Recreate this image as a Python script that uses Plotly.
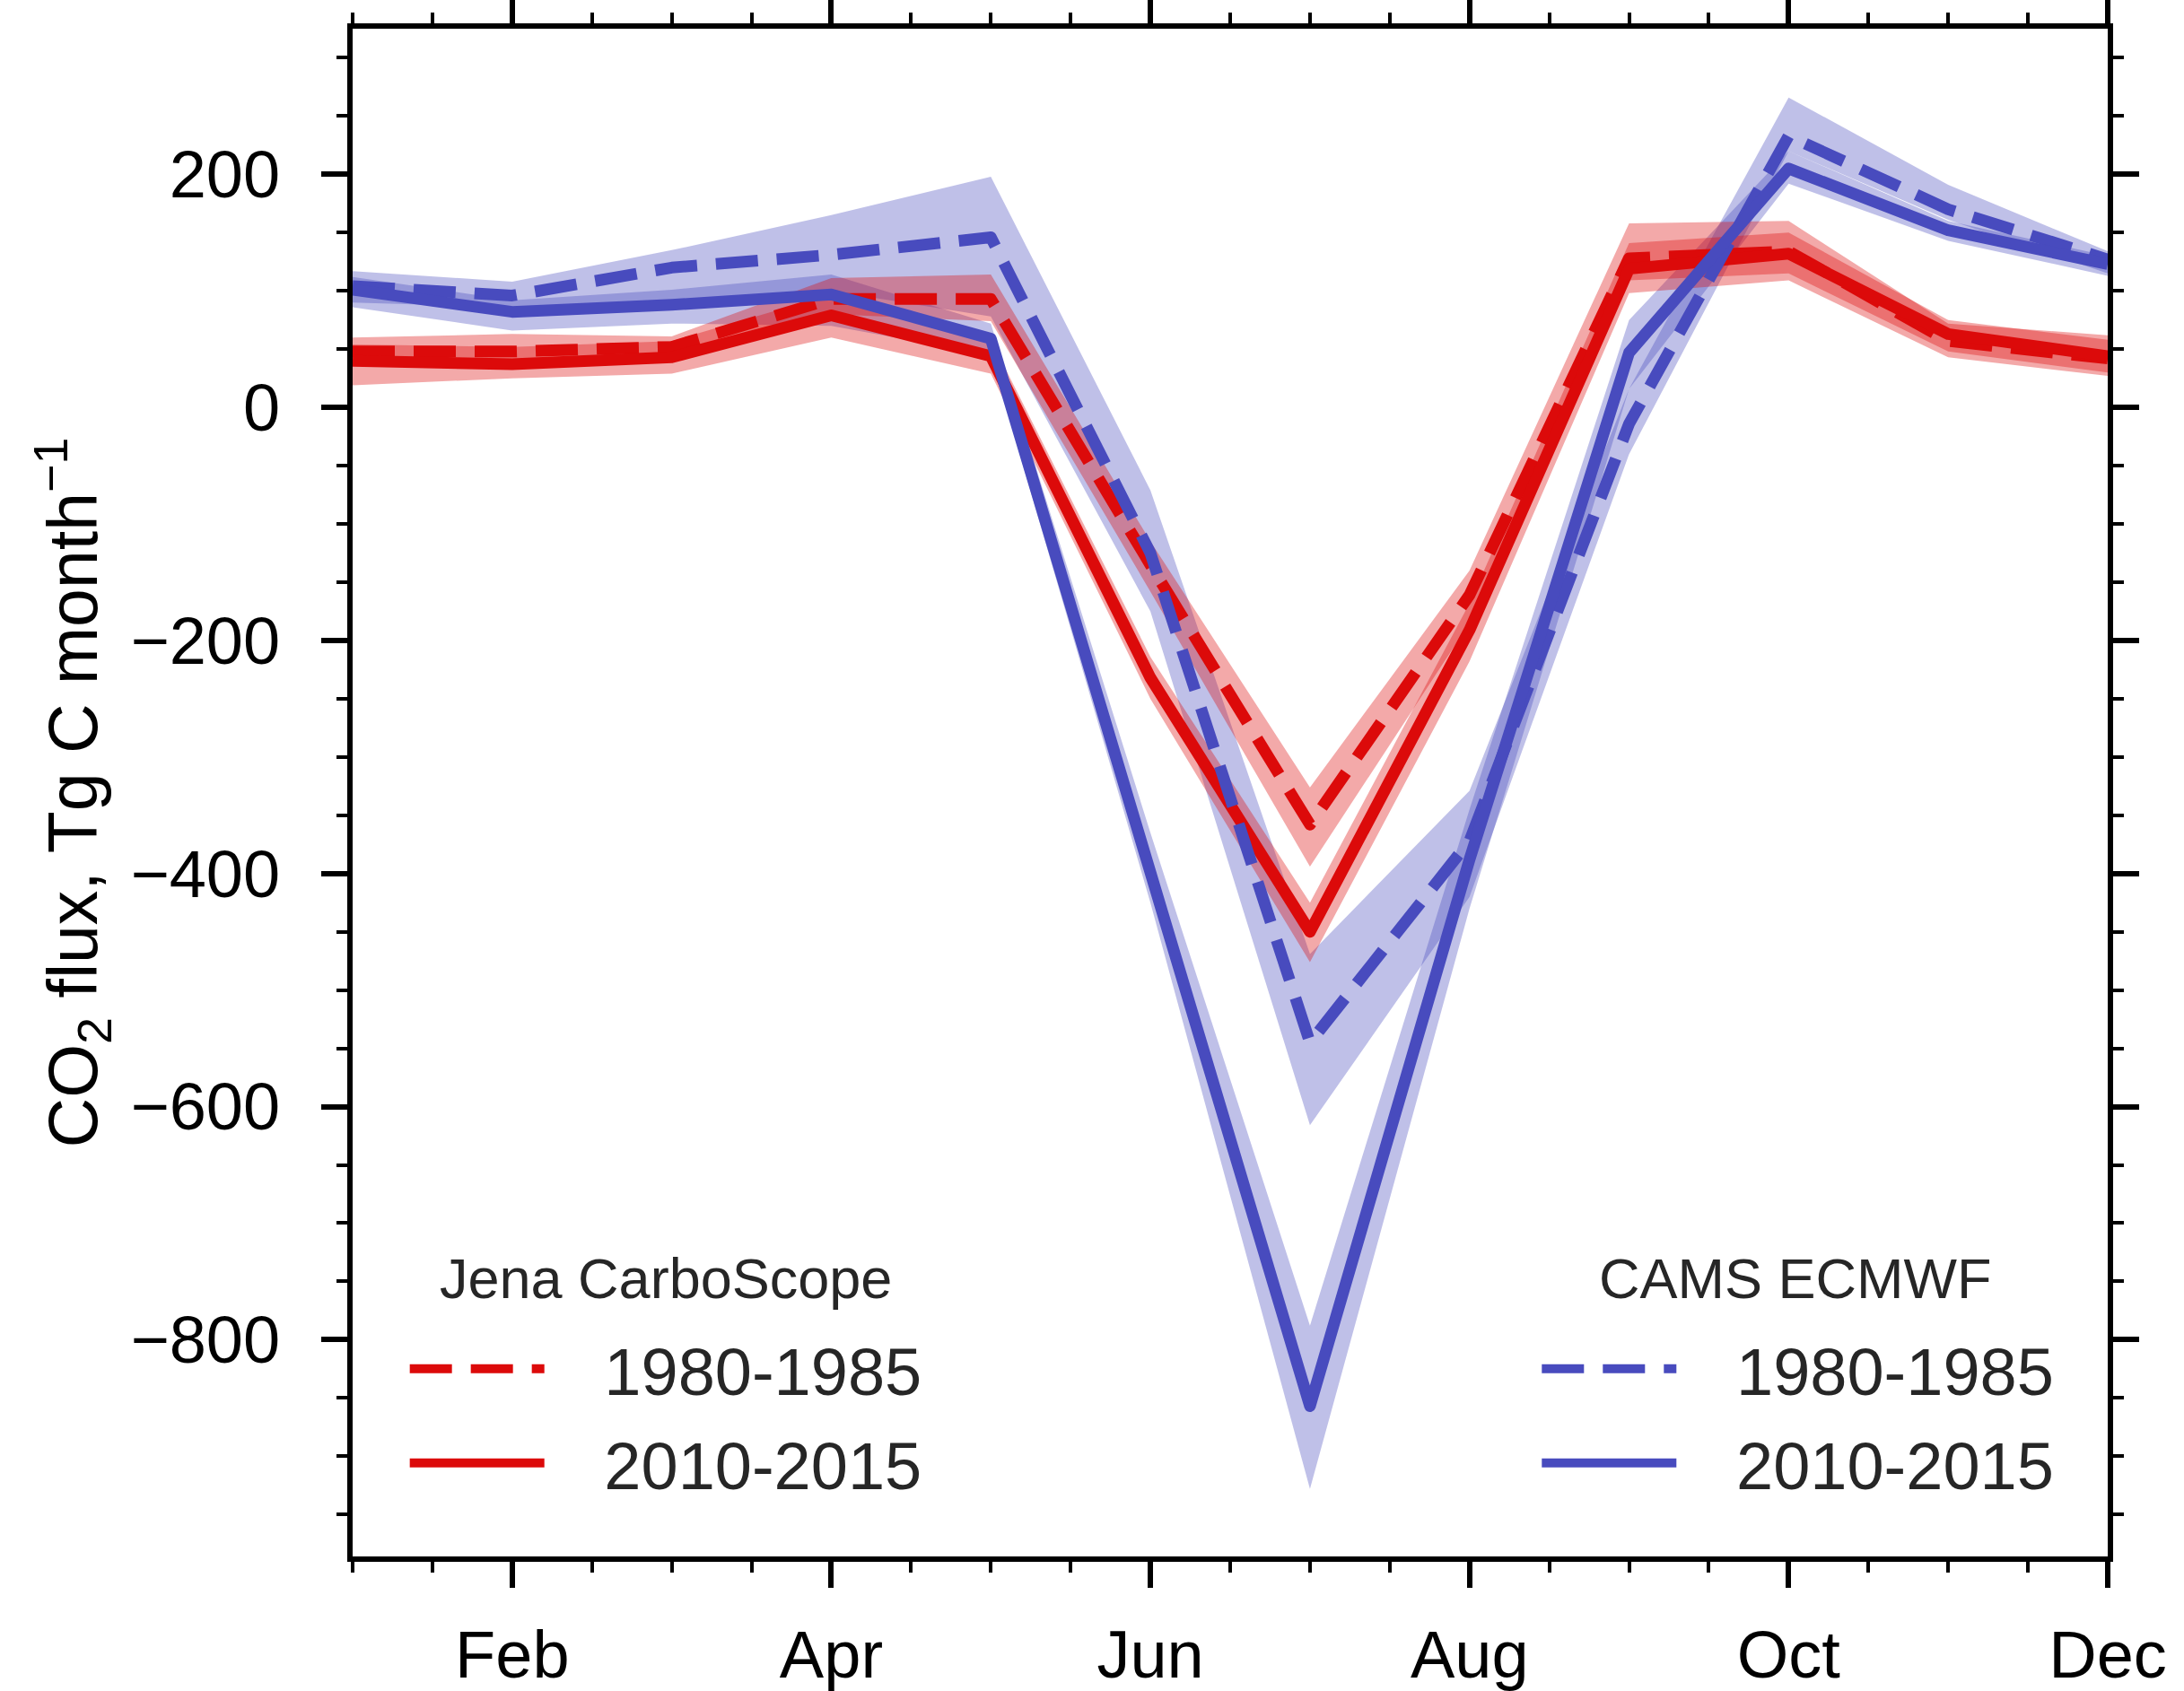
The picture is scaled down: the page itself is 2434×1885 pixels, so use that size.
import plotly.graph_objects as go

# ---------------- data ----------------
months = list(range(1, 13))
tick_vals = [2, 4, 6, 8, 10, 12]
tick_text = ["Feb", "Apr", "Jun", "Aug", "Oct", "Dec"]
y_tick_vals = [-800, -600, -400, -200, 0, 200]

jena_1980 = [48, 48, 52, 93, 93, -135, -358, -161, 128, 134, 57, 42]
jena_1980_lo = [37, 38, 42, 80, 74, -158, -394, -185, 109, 115, 48, 30]
jena_1980_hi = [60, 63, 61, 111, 114, -115, -326, -140, 158, 160, 72, 62]

jena_2010 = [40, 37, 43, 79, 44, -232, -450, -191, 119, 132, 63, 44]
jena_2010_lo = [19, 25, 29, 60, 29, -250, -476, -218, 98, 109, 43, 27]
jena_2010_hi = [54, 52, 57, 97, 58, -214, -425, -168, 141, 150, 75, 58]

cams_1980 = [104, 96, 120, 131, 146, -125, -545, -372, -14, 233, 170, 127]
cams_1980_lo = [90, 86, 91, 100, 78, -175, -616, -420, -40, 220, 161, 115]
cams_1980_hi = [117, 108, 135, 165, 198, -71, -469, -329, 16, 266, 191, 134]

cams_2010 = [101, 82, 88, 97, 59, -395, -857, -388, 47, 205, 152, 123]
cams_2010_lo = [86, 66, 72, 70, 45, -425, -928, -430, 16, 192, 143, 113]
cams_2010_hi = [112, 92, 101, 114, 72, -365, -788, -345, 75, 220, 160, 130]

legend_titles = ["Jena CarboScope", "CAMS ECMWF"]
period_labels = ["1980-1985", "2010-2015"]

# ---------------- styles ----------------
RED = "#DC0A0A"
BLUE = "#484BBE"
RED_FILL = "rgba(220,10,10,0.35)"
BLUE_FILL = "rgba(72,75,190,0.35)"
DASH = "47px,21px"
LW = 13
FONT = "Liberation Sans, Arial, Helvetica, sans-serif"
GAP = "\u00a0\u00a0\u00a0"

fig = go.Figure()


def add_band(lo, hi, fillcolor):
    fig.add_trace(go.Scatter(x=months, y=lo, mode="lines", line=dict(width=0, color=fillcolor),
                             showlegend=False, hoverinfo="skip"))
    fig.add_trace(go.Scatter(x=months, y=hi, mode="lines", line=dict(width=0, color=fillcolor),
                             fill="tonexty", fillcolor=fillcolor, showlegend=False, hoverinfo="skip"))


add_band(cams_1980_lo, cams_1980_hi, BLUE_FILL)
add_band(cams_2010_lo, cams_2010_hi, BLUE_FILL)
add_band(jena_1980_lo, jena_1980_hi, RED_FILL)
add_band(jena_2010_lo, jena_2010_hi, RED_FILL)

fig.add_trace(go.Scatter(x=months, y=jena_1980, mode="lines", name=GAP + period_labels[0],
                         line=dict(color=RED, width=LW, dash=DASH),
                         legend="legend", legendgroup="j1"))
fig.add_trace(go.Scatter(x=months, y=jena_2010, mode="lines", name=GAP + period_labels[1],
                         line=dict(color=RED, width=LW),
                         legend="legend", legendgroup="j2"))
fig.add_trace(go.Scatter(x=months, y=cams_1980, mode="lines", name=GAP + period_labels[0],
                         line=dict(color=BLUE, width=LW, dash=DASH),
                         legend="legend2", legendgroup="c1"))
fig.add_trace(go.Scatter(x=months, y=cams_2010, mode="lines", name=GAP + period_labels[1],
                         line=dict(color=BLUE, width=LW),
                         legend="legend2", legendgroup="c2"))

axis_common = dict(
    showline=True, linecolor="black", linewidth=6, mirror="ticks",
    ticks="outside", tickcolor="black", ticklen=29, tickwidth=6,
    showgrid=False, zeroline=False, automargin=False,
    tickfont=dict(size=74, color="black", family=FONT),
)

fig.update_xaxes(
    range=[1, 12], tickmode="array", tickvals=tick_vals, ticktext=tick_text,
    minor=dict(tickmode="linear", tick0=1, dtick=0.5, ticks="outside", ticklen=12,
               tickwidth=3.5, tickcolor="black", showgrid=False),
    ticklabelstandoff=11,
    **axis_common,
)
fig.update_yaxes(
    range=[-986, 325], tickmode="array", tickvals=y_tick_vals,
    minor=dict(tickmode="linear", tick0=0, dtick=50, ticks="outside", ticklen=12,
               tickwidth=3.5, tickcolor="black", showgrid=False),
    ticklabelstandoff=31,
    title=dict(text="CO<sub>2</sub> flux, Tg C month<sup>−1</sup>",
               font=dict(size=77, color="black", family=FONT), standoff=14),
    **axis_common,
)

legend_common = dict(
    bgcolor="rgba(0,0,0,0)", borderwidth=0,
    font=dict(size=74, color="#262626", family=FONT),
    itemwidth=150, tracegroupgap=6,
    xanchor="left", yanchor="top",
)
fig.update_layout(
    width=2434, height=1885,
    margin=dict(l=393, r=85, t=32, b=150),
    paper_bgcolor="white", plot_bgcolor="white",
    font=dict(family=FONT, color="black"),
    legend=dict(x=0.03, y=0.155, **legend_common),
    legend2=dict(x=0.675, y=0.155, **legend_common),
)

for txt, xc in zip(legend_titles, [0.1784, 0.8216]):
    fig.add_annotation(text=txt, xref="paper", yref="paper", x=xc, y=0.182,
                       xanchor="center", yanchor="middle", showarrow=False,
                       font=dict(size=63, color="#262626", family=FONT))

post = """
var st = document.createElement('style');
st.innerHTML = '.scatterlayer .js-line { stroke-linejoin: round; }';
document.head.appendChild(st);
"""
fig.write_html("out.html", post_script=post)
